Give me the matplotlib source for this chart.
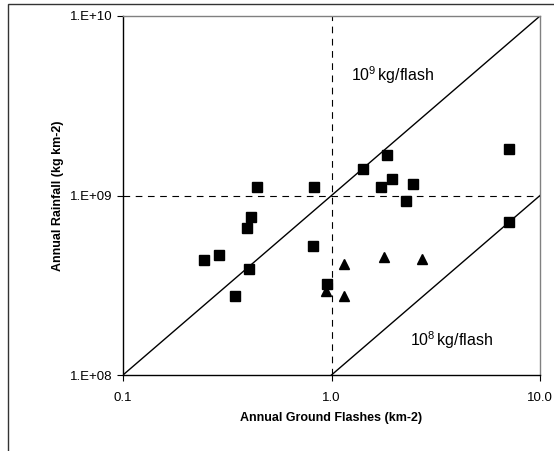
import numpy as np
import matplotlib
matplotlib.use('Agg')
import matplotlib.pyplot as plt
from matplotlib.patches import Rectangle

plt.rcParams['font.family'] = ['Liberation Sans', 'DejaVu Sans']
plt.rcParams['mathtext.fontset'] = 'custom'
plt.rcParams['mathtext.rm'] = 'Liberation Sans'
plt.rcParams['mathtext.it'] = 'Liberation Sans'

# squares
sq_x = [7.13, 1.85, 1.41, 1.94, 1.73, 2.46, 2.27, 0.82, 7.13,
        0.44, 0.41, 0.394, 0.245, 0.289, 0.402, 0.344, 0.815, 0.951]
sq_y = [1.81e9, 1.68e9, 1.41e9, 1.23e9, 1.12e9, 1.16e9, 0.93e9, 1.11e9, 7.1e8,
        1.12e9, 7.56e8, 6.56e8, 4.37e8, 4.64e8, 3.9e8, 2.75e8, 5.23e8, 3.2e8]
# triangles
tri_x = [0.94, 1.15, 1.15, 1.79, 2.73]
tri_y = [2.94e8, 4.14e8, 2.77e8, 4.54e8, 4.43e8]

line_x = [0.1, 10.0]
line9_y = [1e8, 1e10]
line8_x = [1.0, 10.0]
line8_y = [1e8, 1e9]

fig = plt.figure(figsize=(5.54, 4.51), dpi=100)
fig.patches.append(Rectangle((8 / 554, -0.1), 1.2, 1 - 4 / 451 + 0.1,
                             transform=fig.transFigure, fill=False,
                             edgecolor='#333333', linewidth=1.0))

ax = fig.add_axes([123 / 554, 76 / 451, 417 / 554, 359 / 451])
ax.set_xscale('log')
ax.set_yscale('log')
ax.set_xlim(0.1, 10)
ax.set_ylim(1e8, 1e10)

ax.plot(line_x, line9_y, color='black', lw=1.0)
ax.plot(line8_x, line8_y, color='black', lw=1.0)
ax.axvline(1.0, color='black', lw=0.8, ls=(0, (6, 5)))
ax.axhline(1e9, color='black', lw=0.8, ls=(0, (6, 5)))

ax.plot(sq_x, sq_y, 's', color='black', markersize=6.5, clip_on=False)
ax.plot(tri_x, tri_y, '^', color='black', markersize=7, clip_on=False)

ax.text(1.24, 4.34e9, r'$10^9\,$kg/flash', fontsize=11.5)
ax.text(2.38, 1.45e8, r'$10^8\,$kg/flash', fontsize=11.5)

ax.set_xticks([0.1, 1, 10])
ax.set_xticklabels(['0.1', '1.0', '10.0'])
ax.set_yticks([1e8, 1e9, 1e10])
ax.set_yticklabels(['1.E+08', '1.E+09', '1.E+10'])
ax.minorticks_off()
ax.tick_params(labelsize=9.5, length=4, width=0.8, color='black')
ax.tick_params(axis='x', pad=8)

for side in ['top', 'right']:
    ax.spines[side].set_color('#808080')
    ax.spines[side].set_linewidth(1.0)
for side in ['left', 'bottom']:
    ax.spines[side].set_color('black')
    ax.spines[side].set_linewidth(1.0)

ax.set_xlabel('Annual Ground Flashes (km-2)', fontsize=9, fontweight='bold', labelpad=6)
ax.set_ylabel('Annual Rainfall (kg km-2)', fontsize=9, fontweight='bold', labelpad=4.5)

fig.savefig('out.png', dpi=100)
